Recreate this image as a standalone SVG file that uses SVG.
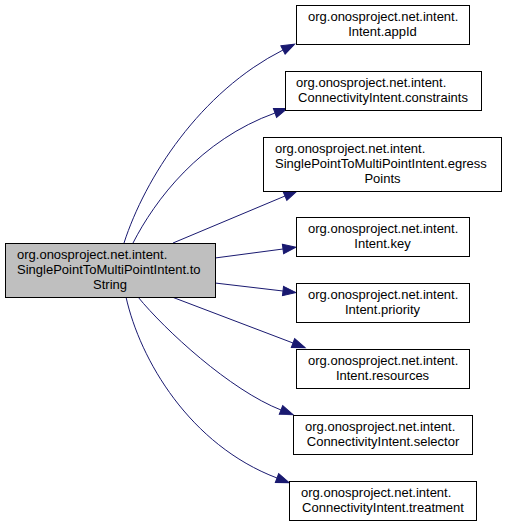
<svg xmlns="http://www.w3.org/2000/svg" width="507" height="524" viewBox="0 0 507 524">
<style>
  .node rect { fill: #ffffff; stroke: #000000; stroke-width: 1; }
  .node.main rect { fill: #bfbfbf; }
  .node text { font-family: "Liberation Sans", Arial, Helvetica, sans-serif; font-size: 13px; fill: #000000; }
  .l { text-anchor: start; }
  .c { text-anchor: middle; }
  .edges path { fill: none; stroke: #191970; stroke-width: 1; }
</style>
<defs>
  <marker id="arrow" markerUnits="userSpaceOnUse" markerWidth="14" markerHeight="10" refX="0" refY="5" orient="auto" overflow="visible">
    <path d="M0,0.3 L13,5 L0,9.7 Z" fill="#191970" stroke="#191970" stroke-width="1"/>
  </marker>
</defs>
<rect width="507" height="524" fill="#ffffff"/>
<g id="edges" class="edges">
  <path d="M124,243 C145,178 200,92 283,50" marker-end="url(#arrow)"/>
  <path d="M133,243 C155,200 200,140 275,113" marker-end="url(#arrow)"/>
  <path d="M173,243 L285,196" marker-end="url(#arrow)"/>
  <path d="M215,258 L283,249" marker-end="url(#arrow)"/>
  <path d="M215,283 L283,291" marker-end="url(#arrow)"/>
  <path d="M172,297 L293,343" marker-end="url(#arrow)"/>
  <path d="M138,297 C165,330 230,390 281,410" marker-end="url(#arrow)"/>
  <path d="M126,297 C140,360 190,445 277,478" marker-end="url(#arrow)"/>
</g>
<g id="node-main" class="node main">
  <rect x="5.5" y="243.5" width="210" height="54"/>
  <text class="l" x="17" y="259">org.onosproject.net.intent.</text>
  <text class="l" x="17" y="274">SinglePointToMultiPointIntent.to</text>
  <text class="c" x="110" y="289">String</text>
</g>
<g id="node-appId" class="node">
  <rect x="296.5" y="5.5" width="173" height="39"/>
  <text class="l" x="308" y="21">org.onosproject.net.intent.</text>
  <text class="c" x="382.5" y="36">Intent.appId</text>
</g>
<g id="node-constraints" class="node">
  <rect x="285.5" y="71.5" width="196" height="39"/>
  <text class="l" x="296" y="87">org.onosproject.net.intent.</text>
  <text class="c" x="383" y="102">ConnectivityIntent.constraints</text>
</g>
<g id="node-egressPoints" class="node">
  <rect x="263.5" y="137.5" width="238" height="54"/>
  <text class="l" x="275" y="153">org.onosproject.net.intent.</text>
  <text class="l" x="275" y="168">SinglePointToMultiPointIntent.egress</text>
  <text class="c" x="382.5" y="183">Points</text>
</g>
<g id="node-key" class="node">
  <rect x="296.5" y="217.5" width="173" height="39"/>
  <text class="l" x="308" y="233">org.onosproject.net.intent.</text>
  <text class="c" x="382.5" y="248">Intent.key</text>
</g>
<g id="node-priority" class="node">
  <rect x="296.5" y="283.5" width="173" height="39"/>
  <text class="l" x="308" y="299">org.onosproject.net.intent.</text>
  <text class="c" x="382.5" y="314">Intent.priority</text>
</g>
<g id="node-resources" class="node">
  <rect x="296.5" y="349.5" width="173" height="39"/>
  <text class="l" x="308" y="365">org.onosproject.net.intent.</text>
  <text class="c" x="382.5" y="380">Intent.resources</text>
</g>
<g id="node-selector" class="node">
  <rect x="293.5" y="415.5" width="179" height="39"/>
  <text class="l" x="305" y="431">org.onosproject.net.intent.</text>
  <text class="c" x="383" y="446">ConnectivityIntent.selector</text>
</g>
<g id="node-treatment" class="node">
  <rect x="289.5" y="481.5" width="187" height="39"/>
  <text class="l" x="301" y="497">org.onosproject.net.intent.</text>
  <text class="c" x="383" y="512">ConnectivityIntent.treatment</text>
</g>
</svg>
